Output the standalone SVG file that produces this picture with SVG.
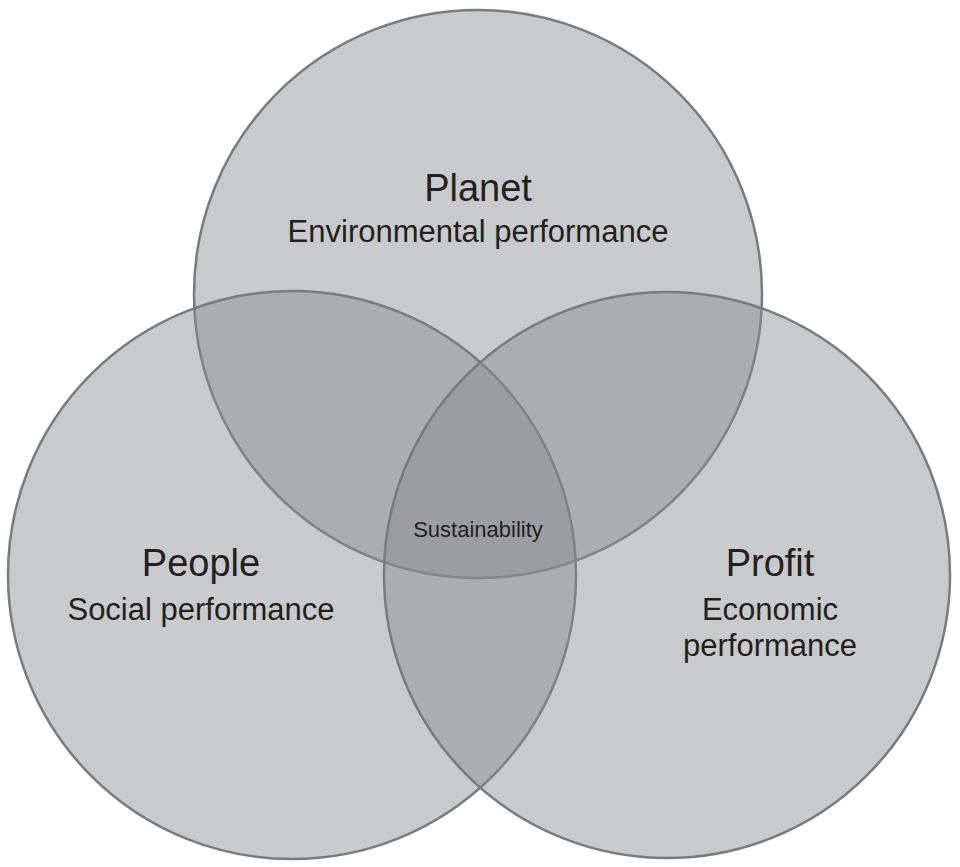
<svg xmlns="http://www.w3.org/2000/svg" width="960" height="867" viewBox="0 0 960 867">
<style>
.c{fill:#8a8b8e;fill-opacity:0.46;stroke:#7a7b7d;stroke-width:2.5}
text{font-family:"Liberation Sans",Arial,sans-serif;fill:#231f20;text-anchor:middle}
.t{font-size:38px}.s{font-size:31px}.m{font-size:22px}
</style>
<rect width="960" height="867" fill="#fff"/>
<g id="planet"><circle class="c" cx="478" cy="294" r="284"/></g>
<g id="people"><circle class="c" cx="292" cy="575" r="284"/></g>
<g id="profit"><circle class="c" cx="667" cy="575" r="283"/></g>
<g id="labels">
<text class="t" x="478" y="201">Planet</text>
<text class="s" x="478" y="242">Environmental performance</text>
<text class="t" x="201" y="576">People</text>
<text class="s" x="201" y="620">Social performance</text>
<text class="t" x="770" y="576">Profit</text>
<text class="s" x="770" y="620">Economic</text>
<text class="s" x="770" y="656">performance</text>
<text class="m" x="478" y="537">Sustainability</text>
</g>
</svg>
